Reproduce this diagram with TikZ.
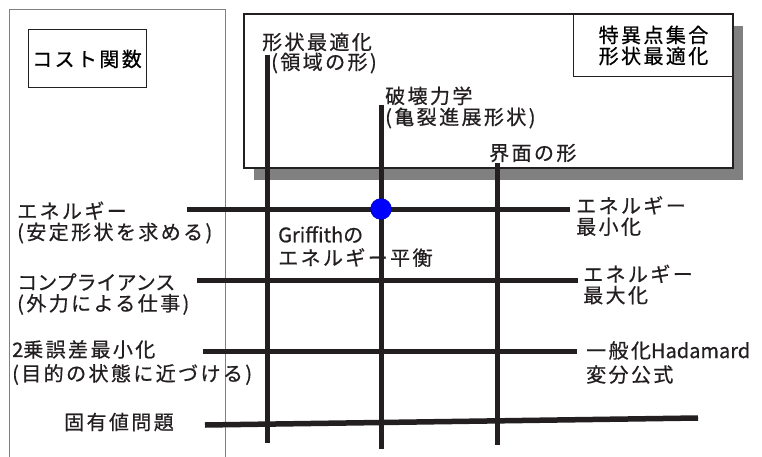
\documentclass[tikz,border=0pt]{standalone}
\usepackage{fontspec}
\setmainfont{Noto Sans CJK JP}[LetterSpace=12, FakeBold=0.6]
\newfontfamily\lat{Noto Sans CJK JP}[FakeBold=0.6]
\definecolor{ink}{HTML}{231F20}
\definecolor{shadowgray}{HTML}{808080}
\tikzset{
  axis/.style={line width=5pt, draw=ink},
  lbl/.style={inner sep=0pt, anchor=west, align=left, font=\fontsize{20}{21}\selectfont, text=ink},
  frame/.style={draw=ink, line width=1pt},
}
\begin{document}
\begin{tikzpicture}[x=1pt,y=-1pt]
\useasboundingbox (0,0) rectangle (762,457);
% left frame
\draw[shadowgray, line width=1pt] (9,460) -- (9,10) -- (225,10) -- (225,460);
\node[frame, minimum width=118pt, minimum height=58pt, inner sep=0pt, font=\fontsize{20}{21}\selectfont] (cost) at (87,59) {コスト関数};
% right box with shadow
\fill[shadowgray] (254,26) rectangle (743,180);
\draw[ink, line width=2pt, fill=white] (244,14) rectangle (733,168);
\node[frame, minimum width=160pt, minimum height=62pt, inner sep=0pt, anchor=north west, align=center, font=\fontsize{20}{21}\selectfont] (sing) at (573,14) {特異点集合\\形状最適化};
% coordinates
\coordinate (v1t) at (267,55); \coordinate (v1b) at (267,443);
\coordinate (v2t) at (381,105); \coordinate (v2b) at (381,449);
\coordinate (v3t) at (497,163); \coordinate (v3b) at (497,445);
\coordinate (h1l) at (187,209); \coordinate (h1r) at (570,209);
\coordinate (h2l) at (197,280); \coordinate (h2r) at (578,280);
\coordinate (h3l) at (203,351); \coordinate (h3r) at (577,351);
\coordinate (h4l) at (205,425); \coordinate (h4r) at (698,418);
\draw[axis] (v1t) -- (v1b);
\draw[axis] (v2t) -- (v2b);
\draw[axis] (v3t) -- (v3b);
\draw[axis] (h1l) -- (h1r);
\draw[axis] (h2l) -- (h2r);
\draw[axis] (h3l) -- (h3r);
\draw[axis, line width=5.5pt] (h4l) -- (h4r);
\node[circle, fill=blue, draw=blue!70!black, line width=0.4pt, minimum size=21pt, inner sep=0pt] (dot) at (381,209) {};
% top labels
\node[lbl] (t1a) at (262,42) {形状最適化};
\node[lbl] (t1b) at (271,63) {(領域の形)};
\node[lbl] (t2) at (385,107.5) {破壊力学\\(亀裂進展形状)};
\node[lbl] (t3) at (489,153) {界面の形};
% left labels
\node[lbl] (l1) at (17,222.5) {エネルギー\\(安定形状を求める)};
\node[lbl] (l2) at (17,294) {{\lat コンプライアンス}\\(外力による仕事)};
\node[lbl] (l3) at (12,362.5) {{\lat 2}乗誤差最小化\\[3pt](目的の状態に近づける)};
\node[lbl] (l4) at (64,422) {固有値問題};
% middle label
\node[lbl] (g) at (278,246.5) {{\lat Griffith}の\\[2pt]エネルギー平衡};
% right labels
\node[lbl] (r1) at (576,216) {エネルギー\\最小化};
\node[lbl] (r2) at (583,284.5) {エネルギー\\最大化};
\node[lbl] (r3) at (586,362.5) {一般化{\lat Hadamard}\\[3pt]変分公式};
\end{tikzpicture}
\end{document}
